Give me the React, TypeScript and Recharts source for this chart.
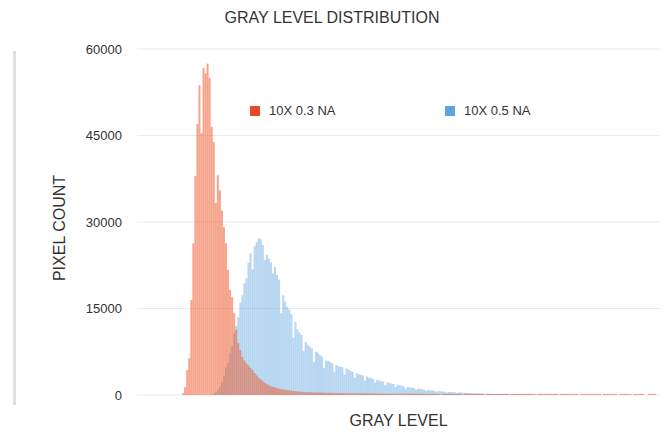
import React from "react"
import { BarChart, Bar, XAxis, YAxis, CartesianGrid } from "recharts"

document.body.style.margin = "0"

// pixel counts per gray level (0..255)
const na03Counts = [
  0, 0, 0, 0, 0, 0, 0, 0, 0, 0, 0, 0, 0, 0, 0, 0,
  0, 0, 0, 0, 0, 0, 300, 1400, 4300, 6400, 16500, 26300, 38000, 47000, 53700, 45400,
  56700, 55800, 57500, 55000, 46500, 43900, 33300, 38100, 35500, 32000, 29100, 26300, 21700, 18200, 17000, 14200,
  11300, 9000, 7800, 6600, 6000, 5500, 5100, 4700, 4300, 3800, 3400, 3000, 2700, 2400, 2100, 1900,
  1700, 1500, 1400, 1300, 1200, 1100, 1000, 950, 900, 850, 800, 750, 700, 650, 600, 580,
  550, 520, 500, 480, 470, 450, 440, 430, 420, 410, 400, 390, 380, 370, 360, 350,
  340, 340, 330, 330, 320, 310, 300, 300, 290, 300, 280, 290, 280, 270, 280, 270,
  260, 270, 260, 250, 260, 250, 240, 250, 240, 230, 240, 230, 250, 230, 240, 220,
  230, 240, 220, 230, 220, 240, 230, 220, 230, 220, 210, 230, 220, 210, 220, 230,
  210, 220, 200, 210, 0, 220, 200, 210, 200, 220, 210, 200, 190, 210, 200, 0,
  210, 200, 190, 200, 210, 190, 200, 190, 200, 180, 0, 200, 190, 200, 180, 190,
  200, 180, 190, 200, 190, 180, 0, 190, 200, 180, 190, 180, 200, 190, 180, 190,
  200, 190, 180, 0, 190, 200, 180, 190, 200, 190, 180, 190, 200, 190, 0, 180,
  190, 200, 180, 190, 200, 190, 180, 190, 0, 200, 190, 180, 200, 190, 180, 200,
  190, 180, 200, 0, 190, 180, 200, 190, 180, 190, 200, 0, 190, 180, 190, 200,
  180, 190, 0, 200, 180, 190, 200, 180, 0, 0, 190, 200, 180, 190, 0, 0,
]

const na05Counts = [
  0, 0, 0, 0, 0, 0, 0, 0, 0, 0, 0, 0, 0, 0, 0, 0,
  0, 0, 0, 0, 0, 0, 0, 0, 0, 0, 0, 0, 0, 0, 0, 0,
  0, 0, 0, 0, 0, 200, 500, 900, 1400, 2200, 3300, 4800, 5600, 7300, 8500, 10700,
  12000, 13500, 16000, 17300, 19400, 20200, 22900, 24600, 21800, 25800, 26500, 27200, 27000, 26000, 23400, 24300,
  23700, 23000, 21100, 22200, 20800, 20000, 14200, 17300, 16200, 15300, 14800, 14000, 9900, 12700, 11400, 10800,
  10400, 7600, 9200, 8700, 8400, 8100, 5700, 7500, 7300, 6900, 6700, 4700, 6000, 5900, 5700, 5500,
  4000, 5200, 5000, 4900, 4800, 3500, 4600, 4400, 4200, 4000, 3000, 3800, 3600, 3500, 3400, 2500,
  3200, 3000, 2900, 2800, 2100, 2600, 2500, 2400, 2300, 1700, 2200, 2100, 2000, 1900, 1400, 1800,
  1700, 1600, 1500, 1100, 1400, 1300, 1250, 1200, 900, 1100, 1050, 1000, 950, 700, 900, 850,
  800, 750, 550, 700, 650, 600, 580, 420, 550, 520, 500, 480, 350, 450, 420, 400,
  380, 360, 340, 320, 300, 290, 280, 270, 260, 250, 240, 230, 220, 210, 200, 190,
  180, 180, 170, 170, 160, 160, 150, 150, 140, 140, 130, 130, 120, 120, 110, 110,
  100, 100, 100, 90, 90, 90, 80, 80, 80, 70, 70, 70, 60, 60, 60, 60,
  50, 50, 50, 50, 50, 50, 50, 50, 40, 40, 40, 40, 40, 40, 40, 40,
  40, 40, 30, 30, 30, 30, 30, 30, 30, 30, 30, 30, 30, 30, 30, 30,
  20, 20, 20, 20, 20, 20, 20, 20, 20, 20, 20, 20, 20, 20, 20, 20,
]

const yTicks = [0, 15000, 30000, 45000, 60000]

const seriesNames = ["10X 0.3 NA", "10X 0.5 NA"]
const legendColors = ["#E8482B", "#5EA5DF"]

const data = na03Counts.map((v, i) => ({ level: i, na03: v, na05: na05Counts[i] }))

const font = "'Liberation Sans', Arial, sans-serif"

function LegendBox() {
  return (
    <div style={{ position: "absolute", top: 103, left: 0, width: 664, height: 18, fontSize: 13, color: "#333" }}>
      {seriesNames.map((name, i) => (
        <div
          key={name}
          style={{ position: "absolute", left: i === 0 ? 250 : 445, top: 0, display: "flex", alignItems: "center" }}
        >
          <span style={{ width: 10, height: 10, background: legendColors[i], display: "inline-block", marginRight: 9 }} />
          <span>{name}</span>
        </div>
      ))}
    </div>
  )
}

export default function App() {
  return (
    <div style={{ position: "relative", width: 664, height: 432, background: "#fff", fontFamily: font }}>
      <div style={{ position: "absolute", left: 13, top: 51, width: 3, height: 354, background: "#e0e0e0" }} />
      <div
        style={{ position: "absolute", top: 9, left: 0, width: 664, textAlign: "center", fontSize: 16, color: "#333" }}
      >
        GRAY LEVEL DISTRIBUTION
      </div>
      <div
        style={{
          position: "absolute",
          left: 60,
          top: 228,
          transform: "translate(-50%, -50%) rotate(-90deg)",
          whiteSpace: "nowrap",
          fontSize: 16,
          color: "#333",
        }}
      >
        PIXEL COUNT
      </div>
      <div
        style={{ position: "absolute", top: 412, left: 137, width: 523, textAlign: "center", fontSize: 16, color: "#333" }}
      >
        GRAY LEVEL
      </div>
      <BarChart
        width={664}
        height={432}
        data={data}
        margin={{ top: 49, right: 4, left: 77, bottom: 37 }}
        barCategoryGap="8%"
      >
        <CartesianGrid horizontal vertical={false} stroke="#ebebeb" />
        <XAxis xAxisId="o" dataKey="level" tick={false} tickLine={false} height={0} axisLine={{ stroke: "#4a4a4a", strokeWidth: 2 }} />
        <XAxis xAxisId="b" dataKey="level" hide />
        <YAxis
          width={60}
          domain={[0, 60000]}
          ticks={yTicks}
          axisLine={false}
          tickLine={false}
          tickMargin={9}
          tick={{ fill: "#333", fontSize: 13, fontFamily: font }}
        />
        <Bar xAxisId="b" dataKey="na05" name={seriesNames[1]} fill="#5DA5E0" fillOpacity={0.45} isAnimationActive={false} />
        <Bar xAxisId="o" dataKey="na03" name={seriesNames[0]} fill="#EE5B2E" fillOpacity={0.55} isAnimationActive={false} />
      </BarChart>
      <LegendBox />
    </div>
  )
}
